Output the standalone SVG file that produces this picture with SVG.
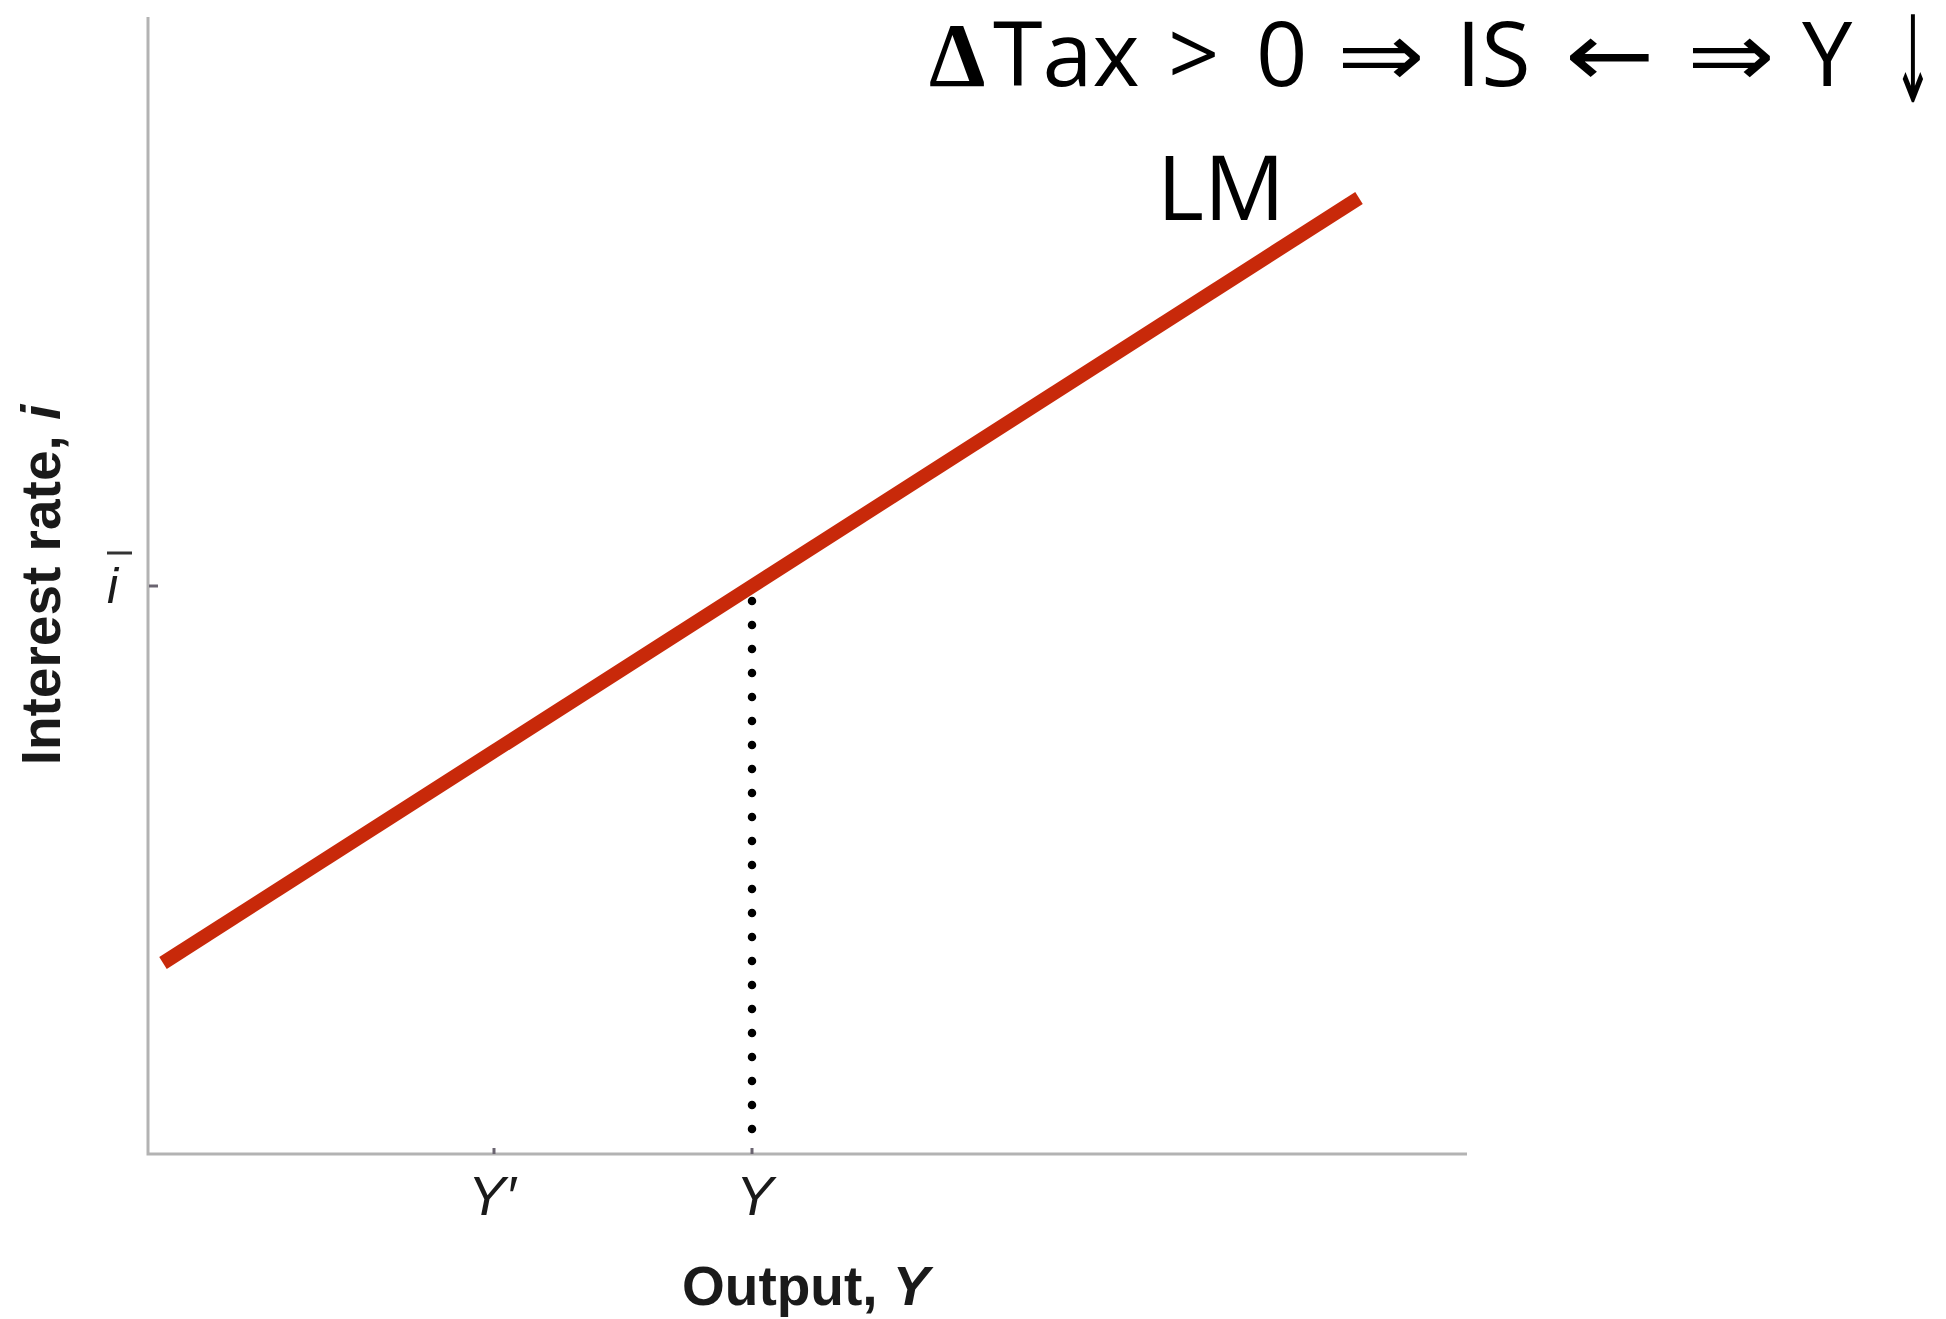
<svg xmlns="http://www.w3.org/2000/svg" width="1946" height="1319" viewBox="0 0 1946 1319">
<style>
.axis{stroke:#b3b3b3;stroke-width:3;fill:none}
.tick{stroke:#6a6470;stroke-width:3}
.lbl{font-family:"Liberation Sans",Arial,sans-serif;fill:#1a1a1a}
.big{font-family:"Open Sans","Noto Sans",sans-serif;font-size:90px;fill:#000}
.arr{font-family:"DejaVu Sans",sans-serif;font-size:90px;fill:#000}
</style>
<rect width="1946" height="1319" fill="#fff"/>
<g id="axes">
<path class="axis" d="M148,17 V1154 H1467"/>
<line class="tick" x1="149" y1="586" x2="158" y2="586"/>
<line class="tick" x1="494" y1="1148" x2="494" y2="1154"/>
<line class="tick" x1="752" y1="1148" x2="752" y2="1154"/>
</g>
<g id="connectors">
<line id="lm-curve" x1="163" y1="963" x2="1359" y2="198" stroke="#c8290a" stroke-width="14"/>
<line id="dotted" x1="752" y1="601" x2="752" y2="1130" stroke="#000" stroke-width="8.5" stroke-linecap="round" stroke-dasharray="0 24"/>
</g>
<g id="axis-labels">
<text class="lbl" font-weight="bold" font-size="55" text-anchor="middle" transform="translate(60,585) rotate(-90)">Interest rate, <tspan font-style="italic">i</tspan></text>
<text class="lbl" font-style="italic" font-size="50" x="107" y="603">i</text>
<line x1="107" y1="553" x2="132" y2="553" stroke="#333" stroke-width="3"/>
<text class="lbl" font-style="italic" font-size="56" x="468" y="1215">Y′</text>
<text class="lbl" font-style="italic" font-size="56" x="736" y="1215">Y</text>
<text class="lbl" font-weight="bold" font-size="55" x="682" y="1305">Output, <tspan font-style="italic">Y</tspan></text>
</g>
<g id="lm-label">
<text class="big" x="1157" y="220">LM</text>
</g>
<g id="title">
<text font-family="'Liberation Serif',serif" font-weight="bold" font-size="90" x="929" y="86">Δ</text>
<text class="big" y="86"><tspan x="993">Tax</tspan><tspan x="1168">&gt;</tspan><tspan x="1256">0</tspan><tspan x="1456">IS</tspan><tspan x="1802">Y</tspan></text>
<text class="arr" x="1337" y="86" textLength="88" lengthAdjust="spacingAndGlyphs">⇒</text>
<text class="arr" x="1565" y="86" textLength="90" lengthAdjust="spacingAndGlyphs">←</text>
<text class="arr" x="1687" y="86" textLength="88" lengthAdjust="spacingAndGlyphs">⇒</text>
<text class="arr" x="1893" y="102" style="font-size:120px" textLength="40" lengthAdjust="spacingAndGlyphs">↓</text>
</g>
</svg>
